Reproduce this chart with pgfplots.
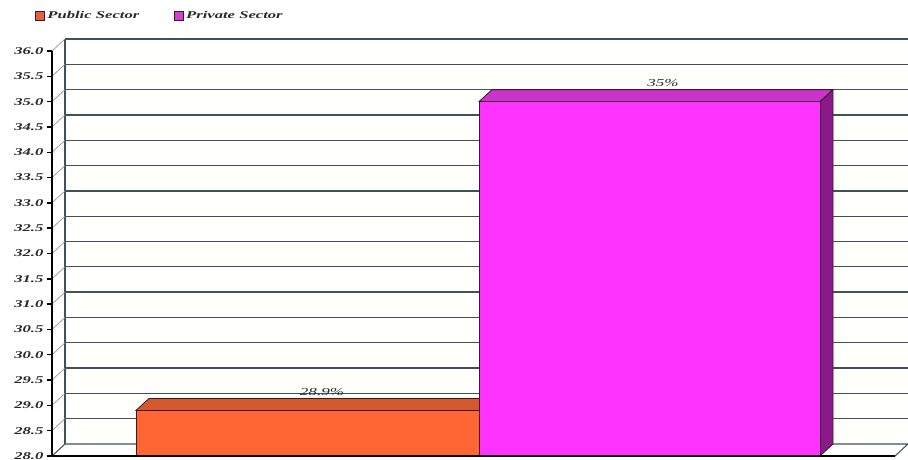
\documentclass[border=0pt]{standalone}
\usepackage{fontspec}
\setmainfont{Liberation Serif}
\newfontfamily\labfont[FakeStretch=1.6]{Liberation Serif}
\usepackage{pgfplots}
\pgfplotsset{compat=1.18}
\definecolor{orFront}{HTML}{FF6633}
\definecolor{orTop}{HTML}{D45A2E}
\definecolor{puFront}{HTML}{FF33FF}
\definecolor{puTop}{HTML}{CC33CC}
\definecolor{puSide}{HTML}{8A1A8A}
\definecolor{edgec}{HTML}{3A1A2A}
\definecolor{gridc}{HTML}{3F5257}
\definecolor{diagc}{HTML}{8A9599}
\definecolor{wallc}{HTML}{FFFFFC}
\definecolor{labc}{HTML}{2A2A2A}
\definecolor{legOr}{HTML}{E8603C}
\definecolor{legPu}{HTML}{CC44CC}
\begin{document}
\begin{tikzpicture}
\begin{axis}[
  name=ax,
  width=632.25pt, height=303.75pt, scale only axis,
  xmin=0, xmax=843, ymin=28, ymax=36, clip=false,
  axis line style={draw=none},
  xtick=\empty,
  ytick={28,28.5,...,36},
  ytick pos=left,
  tick align=outside,
  major tick length=3.75pt,
  tick style={black, line width=1.1pt},
  yticklabel style={font=\labfont\bfseries\itshape\fontsize{7.8}{8}\selectfont, text=labc, inner sep=2.5pt},
  /pgf/number format/.cd, fixed, fixed zerofill, precision=1, assume math mode=true,
  /pgfplots/.cd,
  unbounded coords=jump,
  legend columns=2,
  legend style={at={(-0.0202,1.0864)}, anchor=west, draw=none, fill=none, inner sep=0pt,
    font=\labfont\bfseries\itshape\fontsize{7.8}{9}\selectfont, text=labc,
    /tikz/every even column/.append style={column sep=24pt}},
  legend image code/.code={\draw[#1] (0pt,-3.2pt) rectangle (6.5pt,3.2pt);},
]
% back wall
\addplot[forget plot, fill=wallc, draw=none] coordinates {(13,28.237) (856,28.237) (856,36.237) (13,36.237)} -- cycle;
% floor
\addplot[forget plot, fill=white, draw=gridc, line width=0.8pt] coordinates {(0,28) (13,28.237) (856,28.237) (843,28)} -- cycle;
% back grid lines
\addplot[forget plot, draw=gridc, line width=1pt] coordinates {
(13,28.737) (856,28.737) (nan,nan)
(13,29.237) (856,29.237) (nan,nan)
(13,29.737) (856,29.737) (nan,nan)
(13,30.237) (856,30.237) (nan,nan)
(13,30.737) (856,30.737) (nan,nan)
(13,31.237) (856,31.237) (nan,nan)
(13,31.737) (856,31.737) (nan,nan)
(13,32.237) (856,32.237) (nan,nan)
(13,32.737) (856,32.737) (nan,nan)
(13,33.237) (856,33.237) (nan,nan)
(13,33.737) (856,33.737) (nan,nan)
(13,34.237) (856,34.237) (nan,nan)
(13,34.737) (856,34.737) (nan,nan)
(13,35.237) (856,35.237) (nan,nan)
(13,35.737) (856,35.737) (nan,nan)
(13,36.237) (856,36.237)
};
% left wall edge
\addplot[forget plot, draw=gridc, line width=1pt] coordinates {(13,28.237) (13,36.237)};
% diagonal tick connectors
\addplot[forget plot, draw=diagc, line width=0.5pt] coordinates {
(0,28.5) (13,28.737) (nan,nan)
(0,29.0) (13,29.237) (nan,nan)
(0,29.5) (13,29.737) (nan,nan)
(0,30.0) (13,30.237) (nan,nan)
(0,30.5) (13,30.737) (nan,nan)
(0,31.0) (13,31.237) (nan,nan)
(0,31.5) (13,31.737) (nan,nan)
(0,32.0) (13,32.237) (nan,nan)
(0,32.5) (13,32.737) (nan,nan)
(0,33.0) (13,33.237) (nan,nan)
(0,33.5) (13,33.737) (nan,nan)
(0,34.0) (13,34.237) (nan,nan)
(0,34.5) (13,34.737) (nan,nan)
(0,35.0) (13,35.237) (nan,nan)
(0,35.5) (13,35.737) (nan,nan)
(0,36.0) (13,36.237)
};
% Public sector bar (28.9)
\addplot[forget plot, fill=orTop, draw=edgec, line width=0.6pt] coordinates {(84,28.9) (97,29.137) (440,29.137) (427,28.9)} -- cycle;
\addplot[forget plot, fill=orFront, draw=edgec, line width=0.6pt] coordinates {(84,28) (427,28) (427,28.9) (84,28.9)} -- cycle;
% Private sector bar (35)
\addplot[forget plot, fill=puTop, draw=edgec, line width=0.6pt] coordinates {(427,35) (440,35.237) (781,35.237) (768,35)} -- cycle;
\addplot[forget plot, fill=puSide, draw=edgec, line width=0.6pt] coordinates {(768,28) (781,28.237) (781,35.237) (768,35)} -- cycle;
\addplot[forget plot, fill=puFront, draw=edgec, line width=0.6pt] coordinates {(427,28) (768,28) (768,35) (427,35)} -- cycle;
% front axis lines
\addplot[forget plot, draw=black, line width=1.5pt] coordinates {(0,28) (0,36)};
\addplot[forget plot, draw=black, line width=1.5pt] coordinates {(0,28) (843,28)};
% value labels
\node[font=\labfont\itshape\fontsize{8}{9}\selectfont, text=labc] at (axis cs:270,29.26) {28.9\%};
\node[font=\labfont\itshape\fontsize{8}{9}\selectfont, text=labc] at (axis cs:611,35.37) {35\%};
% legend
\addlegendimage{fill=legOr, draw=edgec, line width=0.6pt}
\addlegendentry{Public Sector}
\addlegendimage{fill=legPu, draw=edgec, line width=0.6pt}
\addlegendentry{Private Sector}
\end{axis}
\pgfresetboundingbox
\path ([shift={(-39pt,-3pt)}]ax.south west) rectangle ++(681pt,345pt);
\end{tikzpicture}
\end{document}
